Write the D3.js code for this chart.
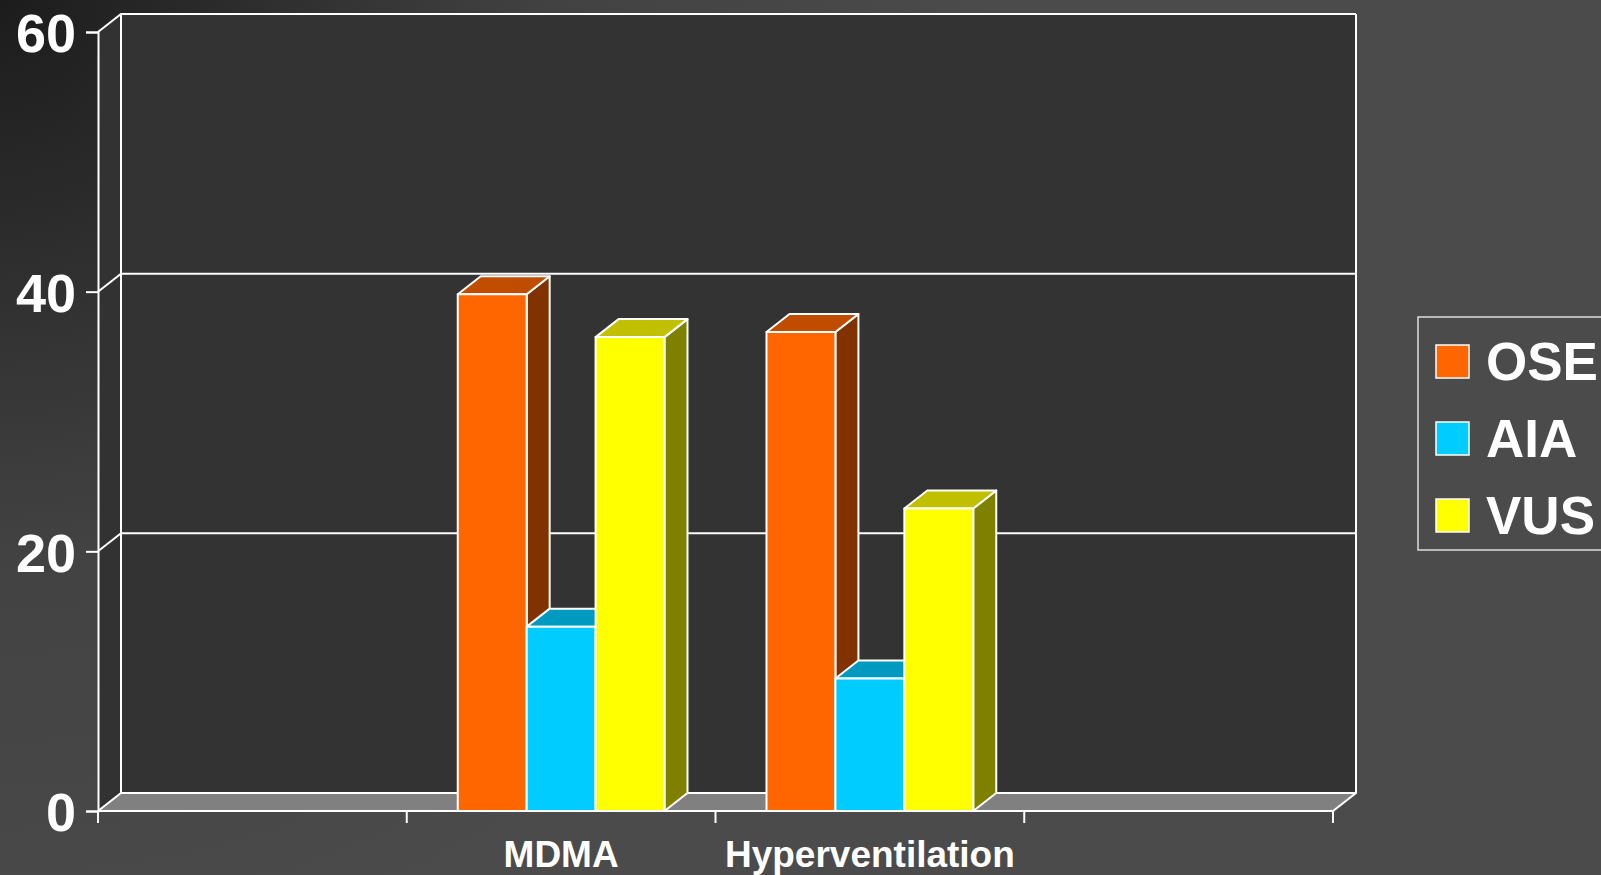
<!DOCTYPE html>
<html>
<head>
<meta charset="utf-8">
<script src="https://cdn.jsdelivr.net/npm/d3@7"></script>
<style>
  html, body { margin: 0; padding: 0; background: #4b4b4b; overflow: hidden; }
  svg { display: block; }
  text { font-family: "Liberation Sans", Arial, sans-serif; font-weight: bold; fill: #ffffff; }
</style>
</head>
<body>
<svg id="chart" width="1601" height="875"></svg>
<script>
// ---- data ----
const categories = ["", "MDMA", "Hyperventilation", ""];
const seriesNames = ["OSE", "AIA", "VUS"];
const oseValues = [null, 39.8, 36.9, null];
const aiaValues = [null, 14.2, 10.2, null];
const vusValues = [null, 36.5, 23.3, null];
const yTicks = [0, 20, 40, 60];

const seriesValues = [oseValues, aiaValues, vusValues];
const frontColors = ["#FF6600", "#00CCFF", "#FFFF00"];
const topColors = ["#C04C00", "#0099C0", "#C0C000"];
const sideColors = ["#803300", "#006680", "#808000"];

// ---- layout ----
const W = 1601, H = 875;
const x0 = 98, x1 = 1333, yBase = 811, yTop = 32;
const DX = 23, DY = -18;

const svg = d3.select("#chart");

// background gradient
const defs = svg.append("defs");
const grad = defs.append("radialGradient").attr("id", "bg")
  .attr("gradientUnits", "userSpaceOnUse")
  .attr("cx", 0).attr("cy", 0).attr("r", 1000);
grad.append("stop").attr("offset", "0").attr("stop-color", "#1c1c1c");
grad.append("stop").attr("offset", "0.55").attr("stop-color", "#424242");
grad.append("stop").attr("offset", "1").attr("stop-color", "#4b4b4b");
svg.append("rect").attr("width", W).attr("height", H).attr("fill", "url(#bg)");

const x = d3.scaleBand().domain(d3.range(categories.length)).range([x0, x1]).padding(0);
const xs = d3.scaleBand().domain(seriesNames).range([0, x.bandwidth()]).paddingInner(0).paddingOuter(0.74);
const y = d3.scaleLinear().domain([0, 60]).range([yBase, yTop]);

const stroke = "#ffffff";
const g = svg.append("g");

// back wall
g.append("rect")
  .attr("x", x0 + DX).attr("y", y(60) + DY)
  .attr("width", x1 - x0).attr("height", y(0) - y(60))
  .attr("fill", "#333333");
// left side wall
g.append("path")
  .attr("d", `M${x0},${y(60)}L${x0 + DX},${y(60) + DY}L${x0 + DX},${y(0) + DY}L${x0},${y(0)}Z`)
  .attr("fill", "#323232");
// floor
g.append("path")
  .attr("d", `M${x0},${y(0)}L${x0 + DX},${y(0) + DY}L${x1 + DX},${y(0) + DY}L${x1},${y(0)}Z`)
  .attr("fill", "#808080");

// gridlines (side wall + back wall)
g.selectAll(".grid").data(yTicks).join("path")
  .attr("class", "grid")
  .attr("d", v => `M${x0},${y(v)}L${x0 + DX},${y(v) + DY}L${x1 + DX},${y(v) + DY}`)
  .attr("fill", "none").attr("stroke", stroke).attr("stroke-width", 2);
// wall edges
g.append("path")
  .attr("d", `M${x0 + DX},${y(60) + DY}L${x0 + DX},${y(0) + DY}`)
  .attr("stroke", stroke).attr("stroke-width", 2);
g.append("path")
  .attr("d", `M${x1 + DX},${y(60) + DY}L${x1 + DX},${y(0) + DY}L${x1},${y(0)}L${x0},${y(0)}`)
  .attr("fill", "none").attr("stroke", stroke).attr("stroke-width", 2);

// y axis
const yAxis = d3.axisLeft(y).tickValues(yTicks).tickSize(12).tickPadding(10);
const ya = svg.append("g").attr("transform", `translate(${x0},0)`).call(yAxis);
ya.select(".domain").attr("stroke", stroke).attr("stroke-width", 2);
ya.selectAll(".tick line").attr("stroke", stroke).attr("stroke-width", 2);
ya.selectAll(".tick text")
  .attr("fill", "#fff").attr("font-size", 54).attr("dy", "0.37em")
  .style("font-family", '"Liberation Sans", Arial, sans-serif').style("font-weight", "bold");

// x axis ticks at band boundaries
const bounds = d3.range(categories.length + 1).map(i => i < categories.length ? x(i) : x1);
svg.selectAll(".xtick").data(bounds).join("line")
  .attr("class", "xtick")
  .attr("x1", d => d).attr("x2", d => d)
  .attr("y1", yBase).attr("y2", yBase + 12)
  .attr("stroke", stroke).attr("stroke-width", 2);
svg.selectAll(".xlabel").data(categories).join("text")
  .attr("class", "xlabel")
  .attr("x", (d, i) => x(i) + x.bandwidth() / 2)
  .attr("y", 867)
  .attr("text-anchor", "middle")
  .attr("font-size", 37)
  .text(d => d);

// bars
const bars = svg.append("g");
categories.forEach((c, ci) => {
  seriesNames.forEach((s, si) => {
    const v = seriesValues[si][ci];
    if (v == null) return;
    const bx = x(ci) + xs(s);
    const bw = xs.bandwidth();
    const ty = y(v), by = y(0);
    const bg = bars.append("g")
      .attr("stroke", stroke).attr("stroke-width", 2).attr("stroke-linejoin", "round");
    // side
    bg.append("path")
      .attr("d", `M${bx + bw},${by}L${bx + bw + DX},${by + DY}L${bx + bw + DX},${ty + DY}L${bx + bw},${ty}Z`)
      .attr("fill", sideColors[si]);
    // top
    bg.append("path")
      .attr("d", `M${bx},${ty}L${bx + DX},${ty + DY}L${bx + bw + DX},${ty + DY}L${bx + bw},${ty}Z`)
      .attr("fill", topColors[si]);
    // front
    bg.append("rect")
      .attr("x", bx).attr("y", ty).attr("width", bw).attr("height", by - ty)
      .attr("fill", frontColors[si]);
  });
});

// legend
const lg = svg.append("g");
lg.append("rect")
  .attr("x", 1418).attr("y", 317).attr("width", 220).attr("height", 233)
  .attr("fill", "none").attr("stroke", "#dddddd").attr("stroke-width", 1.5);
const legendY = d3.scalePoint().domain(seriesNames).range([345, 499]);
lg.selectAll(".lsw").data(seriesNames).join("rect")
  .attr("class", "lsw")
  .attr("x", 1436).attr("y", d => legendY(d))
  .attr("width", 33).attr("height", 33)
  .attr("fill", (d, i) => frontColors[i])
  .attr("stroke", stroke).attr("stroke-width", 1.5);
lg.selectAll(".ltx").data(seriesNames).join("text")
  .attr("class", "ltx")
  .attr("x", 1486).attr("y", d => legendY(d) + 35)
  .attr("font-size", 53)
  .text(d => d);
</script>
</body>
</html>
